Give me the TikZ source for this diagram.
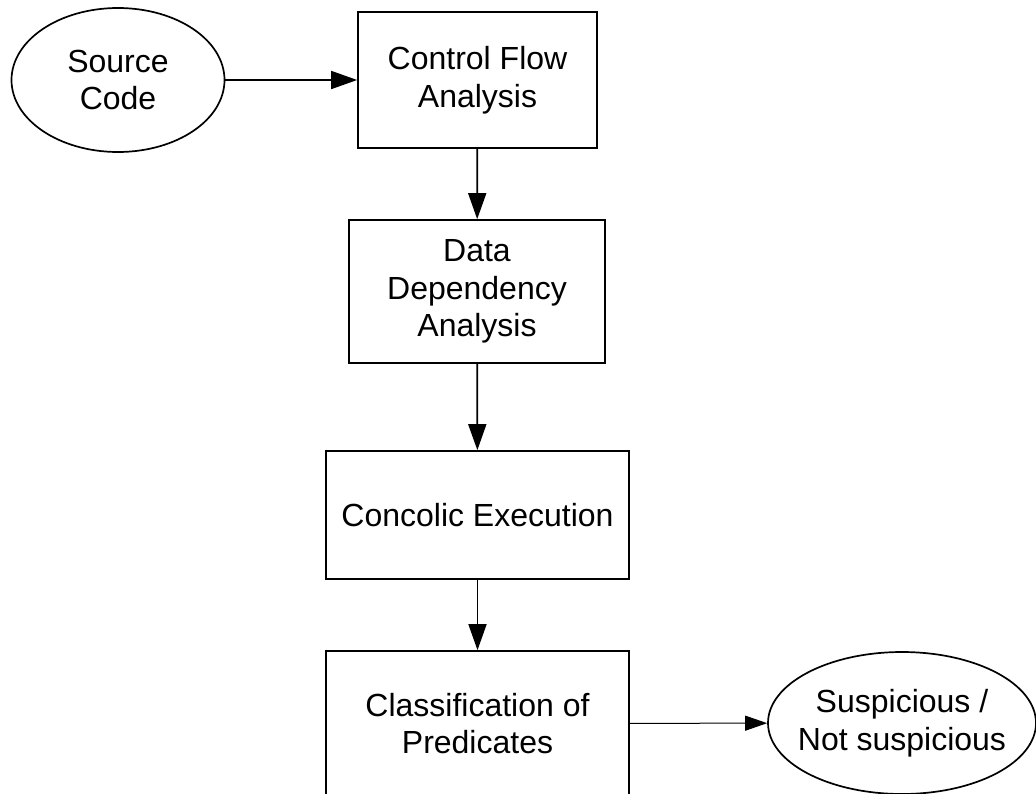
\documentclass[tikz,border=0pt]{standalone}
\usepackage{fontspec}
\setmainfont{Liberation Sans}
\usetikzlibrary{shapes.geometric,arrows.meta}
\begin{document}
\begin{tikzpicture}[x=1pt,y=-1pt,
  every node/.style={font=\fontsize{32}{37.5}\selectfont, align=center, inner sep=0pt, line width=1.7pt},
  proc/.style={draw, rectangle},
  term/.style={draw, ellipse, inner xsep=-20pt},
  flow/.style={line width=1.7pt, -{Triangle[length=26pt,width=18pt]}},
  thinflow/.style={line width=1pt, -{Triangle[length=22pt,width=15pt]}}]
\useasboundingbox (0,0) rectangle (1036,793);
\clip (0,0) rectangle (1036,793);
\node[term, minimum width=213pt, minimum height=144pt] (src) at (118,80) {Source\\Code};
\node[proc, minimum width=239pt, minimum height=136pt] (cfa) at (477.5,80) {Control Flow\\Analysis};
\node[proc, minimum width=256pt, minimum height=143pt] (dda) at (477,291.5) {Data\\Dependency\\Analysis};
\node[proc, minimum width=303pt, minimum height=128pt] (ce) at (477.5,515) {Concolic Execution};
\node[proc, minimum width=303pt, minimum height=145pt] (cp) at (477.5,723.5) {Classification of\\Predicates};
\node[term, minimum width=268pt, minimum height=142pt] (out) at (902,723) {Suspicious /\\Not suspicious};
\draw[flow] (src) -- (cfa);
\draw[flow] (cfa) -- (dda);
\draw[flow] (dda) -- (ce);
\draw[flow] (ce) -- (cp);
\draw[thinflow] (cp) -- (out);
\end{tikzpicture}
\end{document}
